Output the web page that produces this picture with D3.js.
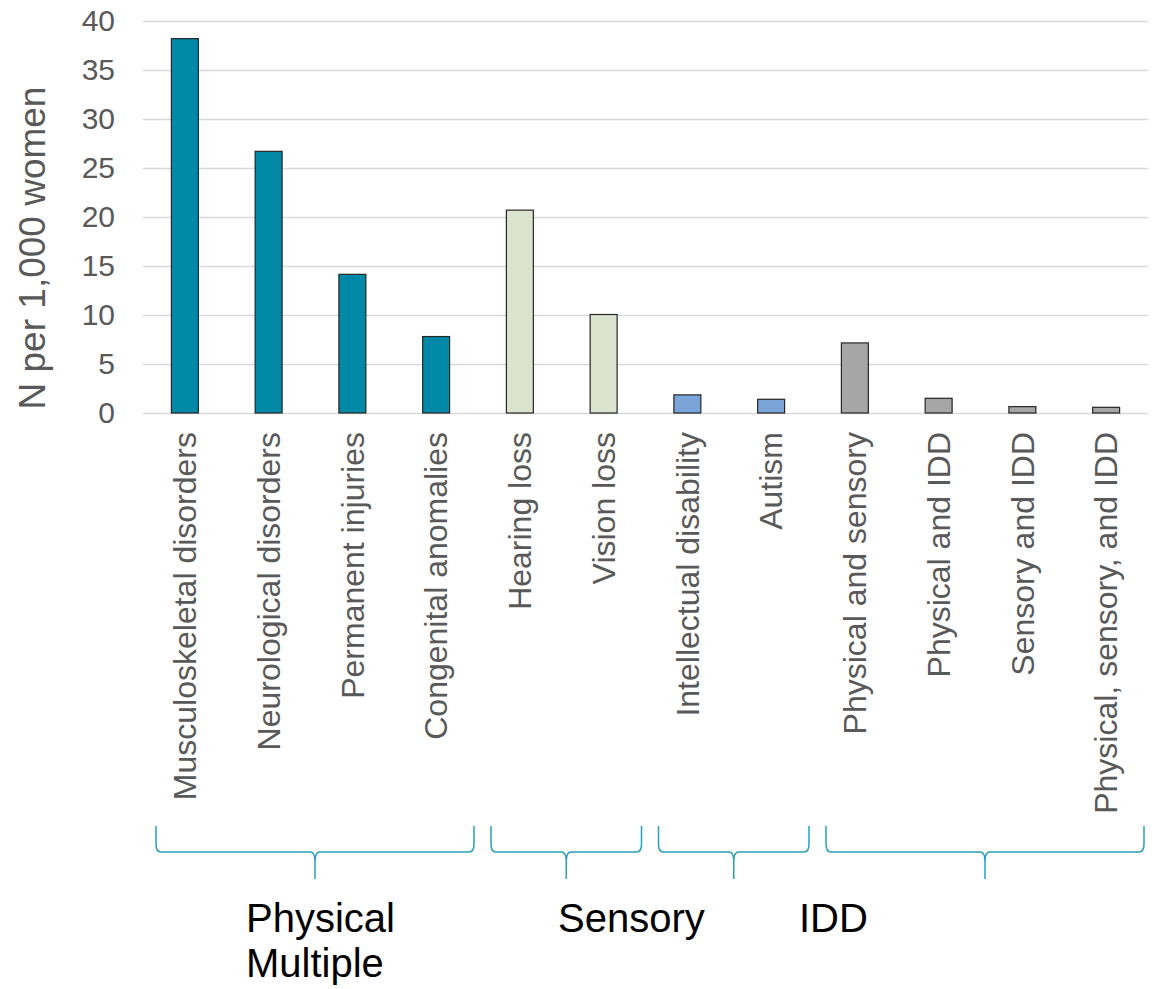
<!DOCTYPE html>
<html>
<head>
<meta charset="utf-8">
<script src="https://cdn.jsdelivr.net/npm/d3@7"></script>
<style>
  html, body { margin: 0; padding: 0; background: #fff; }
  svg { display: block; font-family: "Liberation Sans", Arial, sans-serif; }
</style>
</head>
<body>
<svg id="chart" width="1166" height="989"></svg>
<script>
// Prevalence of disability types, N per 1,000 women
const categories = [
  "Musculoskeletal disorders",
  "Neurological disorders",
  "Permanent injuries",
  "Congenital anomalies",
  "Hearing loss",
  "Vision loss",
  "Intellectual disability",
  "Autism",
  "Physical and sensory",
  "Physical and IDD",
  "Sensory and IDD",
  "Physical, sensory, and IDD"
];
const values = [38.2, 26.7, 14.15, 7.8, 20.7, 10.05, 1.85, 1.4, 7.15, 1.5, 0.65, 0.58];
const groupOf = ["Physical", "Physical", "Physical", "Physical",
                 "Sensory", "Sensory", "IDD", "IDD",
                 "Multiple", "Multiple", "Multiple", "Multiple"];
const groups = ["Physical", "Sensory", "IDD", "Multiple"];
const groupColors = ["#0089a7", "#dbe2cd", "#7ba5d8", "#a6a6a6"];
const yTicks = [0, 5, 10, 15, 20, 25, 30, 35, 40];

const svg = d3.select("#chart");
const plotLeft = 143, plotRight = 1148, plotTop = 21, plotBottom = 413;

const x = d3.scaleBand()
  .domain(categories)
  .range([plotLeft, plotRight])
  .paddingInner(0.678)
  .paddingOuter(0.339);

const y = d3.scaleLinear().domain([0, 40]).range([plotBottom, plotTop]);
const color = d3.scaleOrdinal().domain(groups).range(groupColors);

// gridlines + y tick labels
const yAxis = svg.append("g")
  .attr("transform", `translate(${plotLeft},0)`)
  .call(d3.axisLeft(y).tickValues(yTicks).tickSize(-(plotRight - plotLeft)).tickPadding(28));
yAxis.select(".domain").remove();
yAxis.selectAll(".tick line").attr("stroke", "#d9d9d9").attr("stroke-width", 1.4);
yAxis.selectAll(".tick text")
  .attr("fill", "#595959")
  .style("font-size", "30px")
  .style("font-family", "'Liberation Sans', Arial, sans-serif");

// y axis title
svg.append("text")
  .attr("transform", `translate(45,248) rotate(-90)`)
  .attr("text-anchor", "middle")
  .attr("fill", "#595959")
  .style("font-size", "37px")
  .text("N per 1,000 women");

// bars
svg.append("g").selectAll("rect")
  .data(categories)
  .join("rect")
  .attr("x", d => x(d))
  .attr("width", x.bandwidth())
  .attr("y", (d, i) => y(values[i]))
  .attr("height", (d, i) => y(0) - y(values[i]))
  .attr("fill", (d, i) => color(groupOf[i]))
  .attr("stroke", "#262626")
  .attr("stroke-width", 1.2);

// category labels
svg.append("g").selectAll("text")
  .data(categories)
  .join("text")
  .attr("transform", d => `translate(${x(d) + x.bandwidth() / 2},432) rotate(-90)`)
  .attr("text-anchor", "end")
  .attr("dy", "0.35em")
  .attr("fill", "#595959")
  .style("font-size", "32px")
  .text(d => d);

// group braces beneath the labels
const braceTop = 826, braceMid = 852, braceTip = 879;
function bracePath(x0, x1) {
  const t = (x0 + x1) / 2;
  return `M${x0},${braceTop} L${x0},${braceMid - 8} Q${x0},${braceMid} ${x0 + 5},${braceMid}` +
         ` L${t - 5},${braceMid} Q${t},${braceMid} ${t},${braceMid + 9} L${t},${braceTip}` +
         ` M${t},${braceMid + 9} Q${t},${braceMid} ${t + 5},${braceMid}` +
         ` L${x1 - 5},${braceMid} Q${x1},${braceMid} ${x1},${braceMid - 8} L${x1},${braceTop}`;
}
const half = (x.step() - x.bandwidth()) / 2;
svg.append("g").selectAll("path")
  .data(groups)
  .join("path")
  .attr("d", g => {
    const members = categories.filter((c, i) => groupOf[i] === g);
    const x0 = x(members[0]) - half + 13;
    const x1 = x(members[members.length - 1]) + x.bandwidth() + half - 4;
    return bracePath(x0, Math.min(x1, plotRight));
  })
  .attr("fill", "none")
  .attr("stroke", "#2a9fba")
  .attr("stroke-width", 1.5);

// group names
const groupLabels = svg.append("g").style("font-size", "40px").attr("fill", "#000");
groupLabels.append("text").attr("x", 246).attr("y", 932).text("Physical");
groupLabels.append("text").attr("x", 246).attr("y", 977).text("Multiple");
groupLabels.append("text").attr("x", 558).attr("y", 932).text("Sensory");
groupLabels.append("text").attr("x", 799).attr("y", 932).text("IDD");
</script>
</body>
</html>
